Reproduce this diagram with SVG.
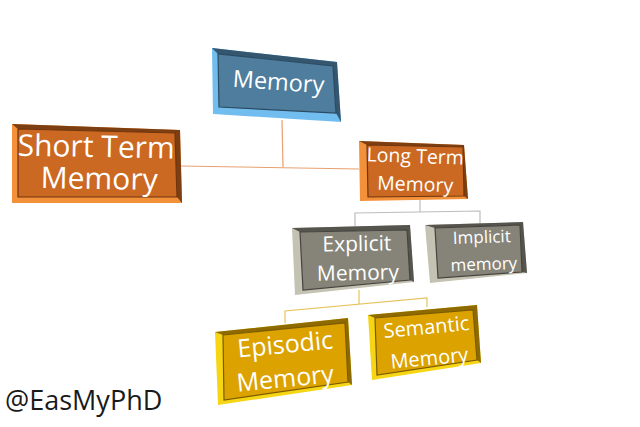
<svg xmlns="http://www.w3.org/2000/svg" width="640" height="427" viewBox="0 0 640 427">
<style>
.t{font-family:"Open Sans","Liberation Sans",sans-serif;fill:#ffffff;text-anchor:middle}
.bl .lt{fill:#72BDF0}.bl .dk{fill:#34566F}.bl .fc{fill:#4E7D9E;stroke:#2C4A60;stroke-width:1.2}
.or .lt{fill:#F2913A}.or .dk{fill:#7D3F12}.or .fc{fill:#CB6822;stroke:#6E3510;stroke-width:1.2}
.gr .lt{fill:#C4C2B2}.gr .dk{fill:#55544D}.gr .fc{fill:#868478;stroke:#45443F;stroke-width:1.2}
.gd .lt{fill:#F5D514}.gd .dk{fill:#8E6A00}.gd .fc{fill:#DCA200;stroke:#7A5B00;stroke-width:1.2}
.c{fill:none;stroke-width:1.2}
.co{stroke:#E8A070}.cg{stroke:#BDBDBD}.cy{stroke:#E5C35A}
</style>
<rect width="640" height="427" fill="#ffffff"/>
<g id="connectors">
<polyline class="c co" points="282,120 283,167"/>
<polyline class="c co" points="181,166 359,169"/>
<polyline class="c cg" points="420,200 420,212"/>
<polyline class="c cg" points="355,228 355,213 480,211 480,224"/>
<polyline class="c cy" points="359,290 359,304"/>
<polyline class="c cy" points="285,323 285,311 427,298 427,307"/>
</g>
<g id="memory" class="bl">
<polygon class="lt" points="212,48 337,62 341,122 213,114"/>
<polygon class="dk" points="212,48 337,62 341,122 336,113 333,66 218,54"/>
<polygon class="fc" points="218,54 333,66 336,113 219,107"/>
<text class="t" x="278" y="90" font-size="23.5" transform="rotate(4 278 90)">Memory</text>
</g>
<g id="short-term" class="or">
<polygon class="lt" points="12,124 180,130 182,203 12,203"/>
<polygon class="dk" points="12,124 180,130 182,203 177,197 175,133 18,129"/>
<polygon class="fc" points="18,129 175,133 177,197 18,197"/>
<text class="t" x="96" y="157" font-size="30" transform="rotate(1 96 157)">Short Term</text>
<text class="t" x="99" y="189" font-size="30" transform="rotate(1 99 189)">Memory</text>
</g>
<g id="long-term" class="or">
<polygon class="lt" points="359,141 464,145 468,199 360,201"/>
<polygon class="dk" points="359,141 464,145 468,199 464,196 463,147 367,145"/>
<polygon class="fc" points="367,145 463,147 464,196 368,197"/>
<text class="t" x="415" y="163" font-size="19.5" transform="rotate(2 415 163)">Long Term</text>
<text class="t" x="415" y="191" font-size="19.5" transform="rotate(2 415 191)">Memory</text>
</g>
<g id="explicit" class="gr">
<polygon class="lt" points="292,228 410,225 414,282 295,295"/>
<polygon class="dk" points="292,228 410,225 414,282 410,280 407,230 300,232"/>
<polygon class="fc" points="300,232 407,230 410,280 303,290"/>
<text class="t" x="357" y="251" font-size="21" transform="rotate(-1 357 251)">Explicit</text>
<text class="t" x="358" y="280" font-size="21" transform="rotate(-1 358 280)">Memory</text>
</g>
<g id="implicit" class="gr">
<polygon class="lt" points="425,225 523,222 527,273 430,283"/>
<polygon class="dk" points="425,225 523,222 527,273 522,272 520,225 435,228"/>
<polygon class="fc" points="435,228 520,225 522,272 438,278"/>
<text class="t" x="482" y="243" font-size="17" transform="rotate(-2 482 243)">Implicit</text>
<text class="t" x="484" y="270" font-size="17" transform="rotate(-2 484 270)">memory</text>
</g>
<g id="episodic" class="gd">
<polygon class="lt" points="215,332 348,318 352,385 218,405"/>
<polygon class="dk" points="215,332 348,318 352,385 348,382 345,323 223,335"/>
<polygon class="fc" points="223,335 345,323 348,382 224,400"/>
<text class="t" x="286" y="353" font-size="25" transform="rotate(-5.5 286 353)">Episodic</text>
<text class="t" x="286" y="387" font-size="25" transform="rotate(-5.5 286 387)">Memory</text>
</g>
<g id="semantic" class="gd">
<polygon class="lt" points="368,315 477,305 481,363 372,380"/>
<polygon class="dk" points="368,315 477,305 481,363 477,360 473,310 375,318"/>
<polygon class="fc" points="375,318 473,310 477,360 377,375"/>
<text class="t" x="427" y="334" font-size="20" transform="rotate(-5.5 427 334)">Semantic</text>
<text class="t" x="430" y="365" font-size="20" transform="rotate(-5.5 430 365)">Memory</text>
</g>
<text id="credit" x="5" y="410" font-family="Open Sans, Liberation Sans, sans-serif" font-size="27" fill="#1a1a1a">@EasMyPhD</text>
</svg>
